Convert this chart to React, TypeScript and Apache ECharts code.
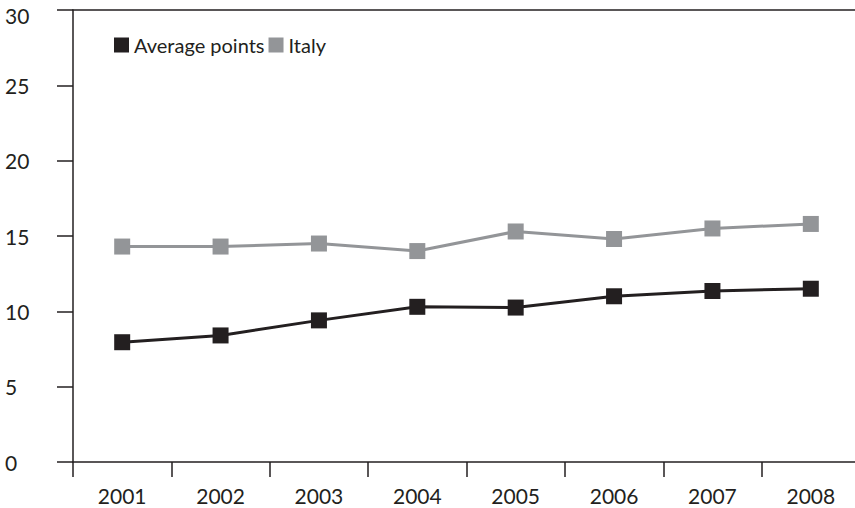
import React, { useEffect, useRef } from "react";
import * as echarts from "echarts";

const years = ["2001", "2002", "2003", "2004", "2005", "2006", "2007", "2008"];
const averagePoints = [7.95, 8.4, 9.4, 10.3, 10.25, 11.0, 11.35, 11.5];
const italy = [14.3, 14.3, 14.5, 14.0, 15.3, 14.8, 15.5, 15.8];
const yTicks = [0, 5, 10, 15, 20, 25, 30];

const FONT = "Lato";
const DARK = "#231f20";
const GRAY = "#939598";

export default function App() {
  const ref = useRef<HTMLDivElement>(null);
  useEffect(() => {
    if (!ref.current) return;
    const chart = echarts.init(ref.current, undefined, { renderer: "svg" });
    const yMax = yTicks[yTicks.length - 1];
    chart.setOption({
      animation: false,
      backgroundColor: "#ffffff",
      textStyle: { fontFamily: FONT },
      grid: { left: 73, top: 10, width: 787, height: 452, outerBoundsMode: "none" },
      legend: {
        left: 114,
        top: 35,
        icon: "rect",
        itemWidth: 15,
        itemHeight: 15,
        itemGap: 4,
        padding: 0,
        textStyle: { fontFamily: FONT, fontSize: 20, color: DARK },
        data: ["Average points", "Italy"],
      },
      xAxis: [
        {
          type: "category",
          data: years,
          boundaryGap: true,
          position: "bottom",
          axisLine: { show: true, lineStyle: { color: DARK, width: 1.5 } },
          axisTick: { show: true, length: 15, lineStyle: { color: DARK, width: 1.5 } },
          axisLabel: { fontFamily: FONT, fontSize: 21, color: DARK, margin: 23 },
          splitLine: { show: false },
        },
        {
          type: "category",
          data: years,
          position: "top",
          axisLine: { show: true, lineStyle: { color: DARK, width: 1.5 } },
          axisTick: { show: false },
          axisLabel: { show: false },
          splitLine: { show: false },
        },
      ],
      yAxis: {
        type: "value",
        min: yTicks[0],
        max: yMax,
        interval: 5,
        axisLine: { show: true, lineStyle: { color: DARK, width: 1.5 } },
        axisTick: { show: true, length: 16, lineStyle: { color: DARK, width: 1.5 } },
        axisLabel: {
          fontFamily: FONT,
          fontSize: 21,
          color: DARK,
          align: "left",
          margin: 68,
          formatter: (v: number) => (v === yMax ? `{t|${v}}` : `${v}`),
          rich: {
            t: {
              fontFamily: FONT,
              fontSize: 21,
              color: DARK,
              lineHeight: 16,
              padding: [10, 0, 0, 0],
            },
          },
        },
        splitLine: { show: false },
      },
      series: [
        {
          name: "Average points",
          type: "line",
          data: averagePoints,
          symbol: "rect",
          symbolSize: 16,
          itemStyle: { color: DARK },
          lineStyle: { color: DARK, width: 3 },
        },
        {
          name: "Italy",
          type: "line",
          data: italy,
          symbol: "rect",
          symbolSize: 16,
          itemStyle: { color: GRAY },
          lineStyle: { color: GRAY, width: 3 },
        },
      ],
    });
    return () => chart.dispose();
  }, []);
  return (
    <div
      ref={ref}
      style={{ position: "absolute", left: 0, top: 0, width: 855, height: 508 }}
    />
  );
}
